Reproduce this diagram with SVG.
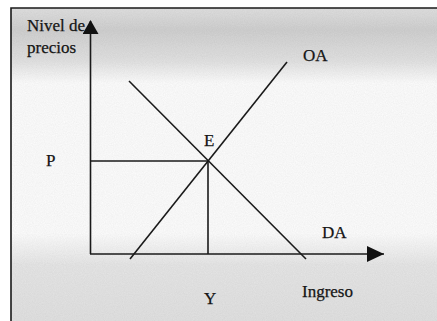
<svg xmlns="http://www.w3.org/2000/svg" width="437" height="321" viewBox="0 0 437 321">
  <defs>
    <linearGradient id="bg" x1="0" y1="8" x2="0" y2="321" gradientUnits="userSpaceOnUse">
      <stop offset="0" stop-color="#e0e0e0"/>
      <stop offset="0.07" stop-color="#d0d0d0"/>
      <stop offset="0.17" stop-color="#e2e2e2"/>
      <stop offset="0.24" stop-color="#fdfdfd"/>
      <stop offset="0.72" stop-color="#fdfdfd"/>
      <stop offset="0.82" stop-color="#e6e6e6"/>
      <stop offset="1" stop-color="#e1e1e1"/>
    </linearGradient>
    <filter id="grain" x="0" y="0" width="100%" height="100%">
      <feTurbulence type="fractalNoise" baseFrequency="0.9" numOctaves="2" seed="3" result="n"/>
      <feColorMatrix type="matrix" values="0 0 0 0 0  0 0 0 0 0  0 0 0 0 0  0 0 0 0.12 0" in="n" result="a"/>
      <feComposite in="a" in2="SourceGraphic" operator="in" result="g"/>
      <feMerge><feMergeNode in="SourceGraphic"/><feMergeNode in="g"/></feMerge>
    </filter>
    <marker id="arrowUp" markerUnits="userSpaceOnUse" markerWidth="18" markerHeight="16" refX="8" refY="1" orient="0" viewBox="0 0 18 16">
      <path d="M8,0 L16,14 L0,14 Z" fill="#111"/>
    </marker>
    <marker id="arrowRight" markerUnits="userSpaceOnUse" markerWidth="18" markerHeight="18" refX="17" refY="8" orient="0" viewBox="0 0 18 18">
      <path d="M17,8 L0,0 L0,16 Z" fill="#111"/>
    </marker>
  </defs>
  <style>
    .ln { stroke: #1a1a1a; stroke-width: 1.6; fill: none; }
    .lbl { font-family: "Liberation Serif", "Times New Roman", serif; font-size: 17px; fill: #151515; stroke: #151515; stroke-width: 0.25; }
  </style>

  <rect x="0" y="0" width="437" height="321" fill="#ffffff"/>
  <rect x="11" y="8" width="440" height="330" fill="url(#bg)" filter="url(#grain)"/>
  <path d="M11,321 L11,8 L437,8" class="ln" stroke-width="1.8"/>

  <g id="connectors">
    <line id="y-axis" x1="90.5" y1="254" x2="90.5" y2="21" class="ln" marker-end="url(#arrowUp)"/>
    <line id="x-axis" x1="90" y1="254" x2="384" y2="254" class="ln" marker-end="url(#arrowRight)"/>
    <line id="oa-curve" x1="130" y1="259" x2="287" y2="62" class="ln"/>
    <line id="da-curve" x1="129" y1="81" x2="306" y2="259" class="ln"/>
    <line id="p-line" x1="90" y1="161" x2="208" y2="161" class="ln"/>
    <line id="y-line" x1="208" y1="161" x2="208" y2="254" class="ln"/>
  </g>

  <g id="label-nivel"><text class="lbl" x="27" y="31">Nivel de</text><text class="lbl" x="27" y="53">precios</text></g>
  <g id="label-oa"><text class="lbl" x="303" y="61">OA</text></g>
  <g id="label-e"><text class="lbl" x="204" y="146">E</text></g>
  <g id="label-p"><text class="lbl" x="46" y="166">P</text></g>
  <g id="label-y"><text class="lbl" x="204" y="304">Y</text></g>
  <g id="label-da"><text class="lbl" x="322" y="238">DA</text></g>
  <g id="label-ingreso"><text class="lbl" x="302" y="297">Ingreso</text></g>
</svg>
